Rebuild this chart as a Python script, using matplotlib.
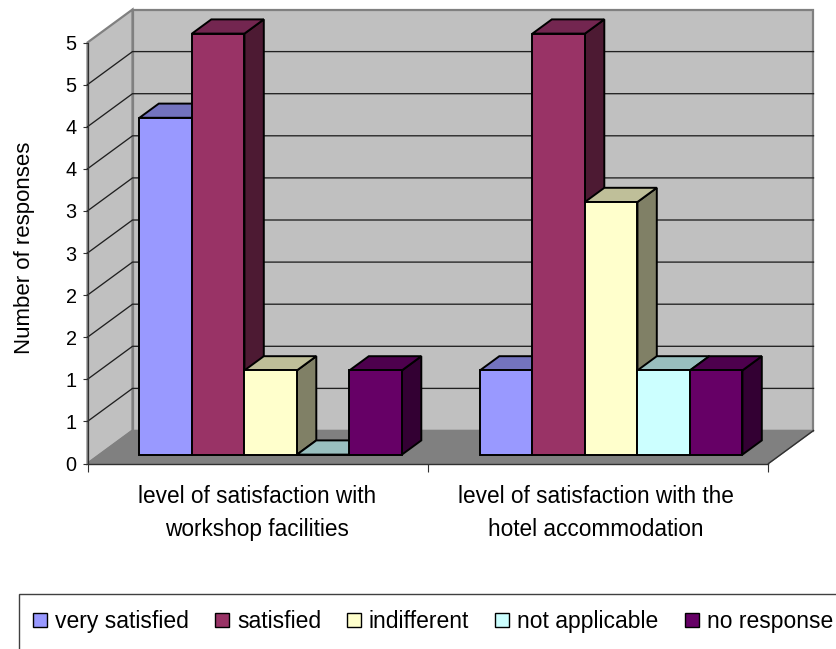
import matplotlib
matplotlib.use("Agg")
import matplotlib.pyplot as plt
from matplotlib.patches import Polygon, Rectangle, Patch

plt.rcParams['font.family'] = ['Liberation Sans', 'DejaVu Sans']

categories = ["level of satisfaction with\nworkshop facilities",
              "level of satisfaction with the\nhotel accommodation"]
series_names = ["very satisfied", "satisfied", "indifferent", "not applicable", "no response"]
very_satisfied = [4, 1]
satisfied = [5, 5]
indifferent = [1, 3]
not_applicable = [0, 1]
no_response = [1, 1]
series_values = [very_satisfied, satisfied, indifferent, not_applicable, no_response]
y_ticks = [0, 0.5, 1, 1.5, 2, 2.5, 3, 3.5, 4, 4.5, 5]
y_tick_labels = ["0", "1", "1", "2", "2", "3", "3", "4", "4", "5", "5"]
front_colors = ["#9999FF", "#993366", "#FFFFCC", "#CCFFFF", "#660066"]
top_colors = ["#7373BF", "#732650", "#BFBF99", "#99BFBF", "#4D004D"]
side_colors = ["#4D4D80", "#4D1A33", "#808066", "#668080", "#330033"]

W, H = 837, 649
FS_TICK = 14.3
FS_CAT = 16.3
FS_YLAB = 16.0
FS_LEG = 16.5
fig = plt.figure(figsize=(W / 100, H / 100), dpi=100)
L, R, B, T = 87.5, 768.5, 463.5, 42.5
ax = fig.add_axes([L / W, 1 - B / H, (R - L) / W, (B - T) / H])
ax.set_xlim(0, 2)
ax.set_ylim(0, 5)

px_x = 2 / (R - L)
px_y = 5 / (B - T)
DX, DY = 45 * px_x, 33 * px_y   # full depth of the box in data units


def P(x, y, d):
    return (x + d * DX, y + d * DY)


def face(pts, fc, ec='black', lw=1.4, z=3):
    ax.add_patch(Polygon(pts, closed=True, facecolor=fc, edgecolor=ec, linewidth=lw,
                         joinstyle='miter', zorder=z, clip_on=False))


WALL = "#C0C0C0"
FLOOR = "#808080"
face([P(0, 0, 1), P(2, 0, 1), P(2, 5, 1), P(0, 5, 1)], WALL, ec=FLOOR, lw=1.6, z=1)
face([P(0, 0, 0), P(0, 0, 1), P(0, 5, 1), P(0, 5, 0)], WALL, ec=FLOOR, lw=1.6, z=1)
face([P(0, 0, 0), P(0, 0, 1), P(2, 0, 1), P(2, 0, 0)], FLOOR, ec=FLOOR, lw=1.0, z=1.2)
for a, b in [(P(0, 0, 0), P(2, 0, 0)), (P(2, 0, 0), P(2, 0, 1))]:
    ax.plot([a[0], b[0]], [a[1], b[1]], color='#303030', lw=1.0, zorder=1.3, clip_on=False)

for v in y_ticks[1:-1]:
    a, b, c = P(0, v, 0), P(0, v, 1), P(2, v, 1)
    ax.plot([a[0], b[0], c[0]], [a[1], b[1], c[1]], color='#202020', lw=0.95, zorder=1.5,
            solid_joinstyle='miter', clip_on=False)

bar_w = 52.5 * px_x
d0, d1 = 0.27, 0.70
gap = (1 - len(series_values) * bar_w) / 2 + 0.8 * px_x
for c in range(len(categories)):
    for s, vals in enumerate(series_values):
        v = vals[c]
        x0 = c + gap + s * bar_w
        x1 = x0 + bar_w
        z = 3 + c * 10 + s
        face([P(x1, 0, d0), P(x1, 0, d1), P(x1, v, d1), P(x1, v, d0)], side_colors[s], z=z)
        face([P(x0, v, d0), P(x0, v, d1), P(x1, v, d1), P(x1, v, d0)], top_colors[s], z=z)
        if v > 0:
            face([P(x0, 0, d0), P(x1, 0, d0), P(x1, v, d0), P(x0, v, d0)], front_colors[s], z=z)
        else:
            ax.plot([P(x0, 0, d0)[0], P(x1, 0, d0)[0]], [P(x0, 0, d0)[1]] * 2,
                    color='black', lw=1.4, zorder=z, clip_on=False)

for side in ('top', 'right', 'bottom'):
    ax.spines[side].set_visible(False)
ax.spines['left'].set_color('#303030')
ax.spines['left'].set_linewidth(0.9)
ax.spines['left'].set_zorder(2)
ax.patch.set_visible(False)

ax.set_yticks(y_ticks)
ax.set_yticklabels(y_tick_labels, fontsize=FS_TICK)
ax.tick_params(axis='y', length=3.8, width=0.8, color='#303030', pad=4.0)
ax.set_xticks([0, 1, 2])
ax.set_xticklabels([])
ax.tick_params(axis='x', length=5.5, width=0.8, color='#303030')

label_shift = [-0.5, -2.0]
for i, label in enumerate(categories):
    ax.annotate(label, xy=(i + 0.5, 0), xycoords='data',
                xytext=(label_shift[i] * 0.72, -15.5), textcoords='offset points',
                ha='center', va='top', fontsize=FS_CAT, linespacing=1.58, annotation_clip=False)

fig.text(25 / W, 1 - 248 / H, "Number of responses", rotation=90, ha='center', va='center', fontsize=FS_YLAB)

fig.add_artist(Rectangle((19 / W, 1 - 660 / H), 860 / W, (660 - 594) / H, transform=fig.transFigure,
                         facecolor='white', edgecolor='#404040', linewidth=1.0))
handles = [Patch(facecolor=fc, edgecolor='black', linewidth=1.0) for fc in front_colors]
fs_px = FS_LEG * 100 / 72
leg = fig.legend(handles, series_names, loc='center left',
                 bbox_to_anchor=(33 / W, 1 - 621.5 / H), bbox_transform=fig.transFigure,
                 ncols=5, frameon=False, fontsize=FS_LEG, borderpad=0, borderaxespad=0,
                 handlelength=14.0 / fs_px, handleheight=12.5 / fs_px,
                 handletextpad=8.0 / fs_px, columnspacing=26.0 / fs_px)

fig.savefig("out.png", dpi=100)
